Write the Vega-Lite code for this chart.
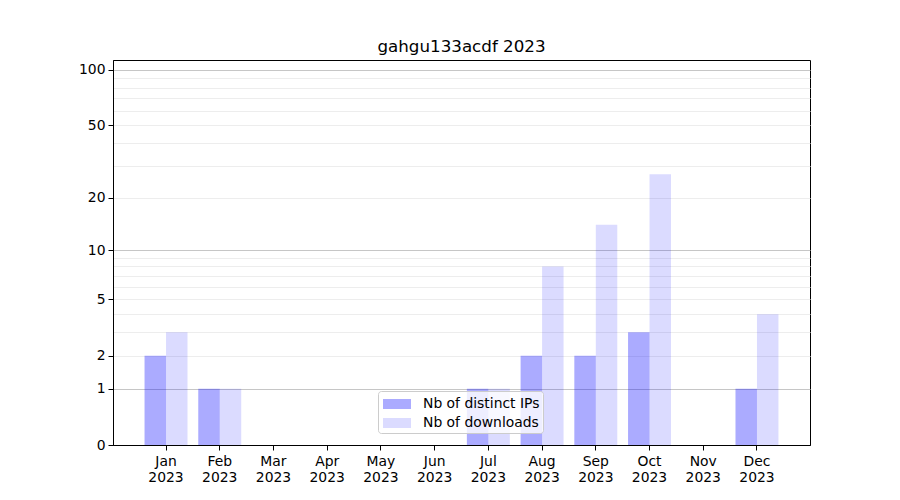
{
  "$schema": "https://vega.github.io/schema/vega-lite/v6.json",
  "width": 697,
  "height": 385,
  "autosize": "none",
  "padding": {"left": 113, "top": 60, "right": 90, "bottom": 55},
  "background": "white",
  "title": {"text": "gahgu133acdf 2023", "font": "DejaVu Sans", "fontSize": 16.7, "fontWeight": "normal", "color": "black", "offset": 4, "anchor": "middle", "frame": "group"},
  "config": {
    "view": {"stroke": "black", "strokeWidth": 1},
    "axis": {"labelFont": "DejaVu Sans", "labelFontSize": 13.9, "labelColor": "black", "tickColor": "black", "tickSize": 5, "domainColor": "black", "labelPadding": 3, "title": null}
  },
  "data": {"values": [
      {"month": "Jan", "series": "Nb of distinct IPs", "value": 2},
      {"month": "Jan", "series": "Nb of downloads", "value": 3},
      {"month": "Feb", "series": "Nb of distinct IPs", "value": 1},
      {"month": "Feb", "series": "Nb of downloads", "value": 1},
      {"month": "Mar", "series": "Nb of distinct IPs", "value": 0},
      {"month": "Mar", "series": "Nb of downloads", "value": 0},
      {"month": "Apr", "series": "Nb of distinct IPs", "value": 0},
      {"month": "Apr", "series": "Nb of downloads", "value": 0},
      {"month": "May", "series": "Nb of distinct IPs", "value": 0},
      {"month": "May", "series": "Nb of downloads", "value": 0},
      {"month": "Jun", "series": "Nb of distinct IPs", "value": 0},
      {"month": "Jun", "series": "Nb of downloads", "value": 0},
      {"month": "Jul", "series": "Nb of distinct IPs", "value": 1},
      {"month": "Jul", "series": "Nb of downloads", "value": 1},
      {"month": "Aug", "series": "Nb of distinct IPs", "value": 2},
      {"month": "Aug", "series": "Nb of downloads", "value": 8},
      {"month": "Sep", "series": "Nb of distinct IPs", "value": 2},
      {"month": "Sep", "series": "Nb of downloads", "value": 14},
      {"month": "Oct", "series": "Nb of distinct IPs", "value": 3},
      {"month": "Oct", "series": "Nb of downloads", "value": 27},
      {"month": "Nov", "series": "Nb of distinct IPs", "value": 0},
      {"month": "Nov", "series": "Nb of downloads", "value": 0},
      {"month": "Dec", "series": "Nb of distinct IPs", "value": 1},
      {"month": "Dec", "series": "Nb of downloads", "value": 4}
  ]},
  "mark": {"type": "bar", "color": "#0000ff"},
  "encoding": {
    "x": {"field": "month", "type": "nominal", "sort": null,
          "scale": {"paddingInner": 0.2, "paddingOuter": 0.587},
          "axis": {"labelAngle": 0, "labelExpr": "[datum.label, '2023']", "labelLineHeight": 16, "labelBaseline": "top", "labelPadding": 4}},
    "xOffset": {"field": "series", "type": "nominal", "scale": {"paddingInner": 0, "paddingOuter": 0}},
    "y": {"field": "value", "type": "quantitative",
          "scale": {"type": "symlog", "constant": 1, "domain": [0, 113], "nice": false, "zero": true},
          "axis": {"values": [0, 1, 2, 3, 4, 5, 6, 7, 8, 9, 10, 20, 30, 40, 50, 60, 70, 80, 90, 100],
                   "labelExpr": "indexof([0, 1, 2, 5, 10, 20, 50, 100], datum.value) >= 0 ? datum.label : ''",
                   "labelOverlap": false, "labelBound": false,
                   "tickOpacity": {"condition": {"test": "indexof([0, 1, 2, 5, 10, 20, 50, 100], datum.value) >= 0", "value": 1}, "value": 0},
                   "grid": true, "gridWidth": 1,
                   "gridOpacity": {"condition": {"test": "datum.value == 0", "value": 0}, "value": 1},
                   "gridColor": {"condition": {"test": "datum.value == 1 || datum.value == 10 || datum.value == 100", "value": "#c6c6c6"}, "value": "#ededed"}}},
    "opacity": {"field": "series", "type": "nominal",
                "scale": {"range": [0.33, 0.14]},
                "legend": {"title": null, "orient": "none", "legendX": 265, "legendY": 331,
                           "fillColor": "rgba(255,255,255,0.8)", "strokeColor": "#cccccc", "cornerRadius": 3, "padding": 3,
                           "symbolType": "M-0.8,-0.5H2V0.5H-0.8Z", "symbolSize": 400, "symbolFillColor": "#0000ff", "symbolStrokeWidth": 0,
                           "labelFont": "DejaVu Sans", "labelFontSize": 13.9, "labelColor": "black", "labelOffset": 22, "rowPadding": 2}}
  }
}
